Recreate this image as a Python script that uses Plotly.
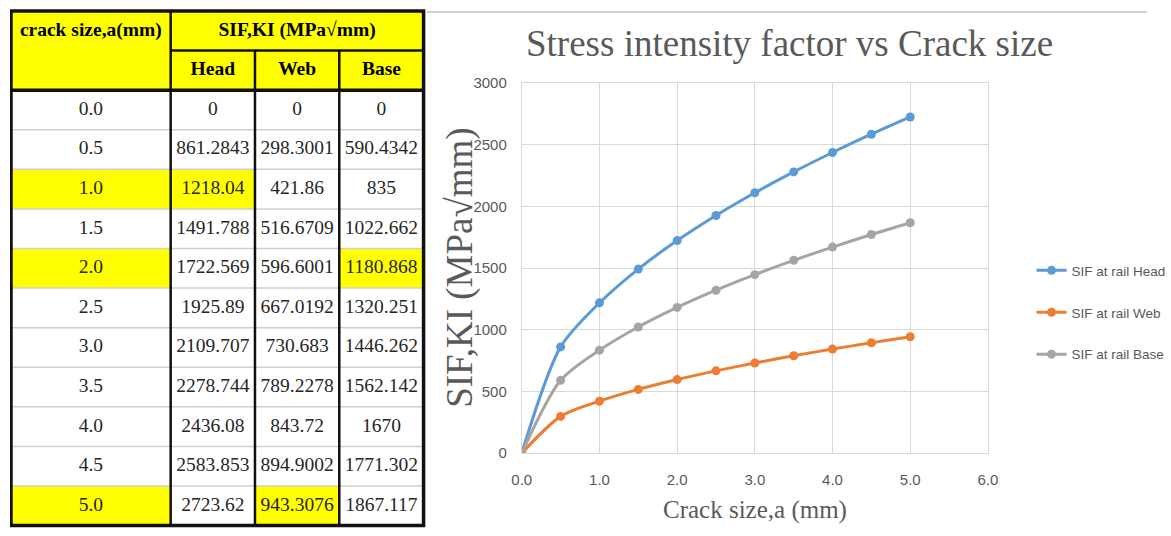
import plotly.graph_objects as go

# ---------------- data ----------------
crack_size = [0.0, 0.5, 1.0, 1.5, 2.0, 2.5, 3.0, 3.5, 4.0, 4.5, 5.0]
sif_head = [0, 861.2843, 1218.04, 1491.788, 1722.569, 1925.89, 2109.707, 2278.744, 2436.08, 2583.853, 2723.62]
sif_web = [0, 298.3001, 421.86, 516.6709, 596.6001, 667.0192, 730.683, 789.2278, 843.72, 894.9002, 943.3076]
sif_base = [0, 590.4342, 835, 1022.662, 1180.868, 1320.251, 1446.262, 1562.142, 1670, 1771.302, 1867.117]
series_names = ["SIF at rail Head", "SIF at rail Web", "SIF at rail Base"]
table_columns = ["Head", "Web", "Base"]
table_header_first = "crack size,a(mm)"
table_header_group = "SIF,KI (MPa√mm)"
highlight_cells = [(1.0, "Head"), (2.0, "Base"), (5.0, "Web")]
chart_title = "Stress intensity factor vs Crack size"
x_title = "Crack size,a (mm)"
y_title = "SIF,KI (MPa√mm)"

# ---------------- styles / layout constants ----------------
W, H = 1171, 536
# the captured picture shows the page with an 8px frame and a slight
# shrink; positions below are given in picture pixels and converted.
OFF, SX, SY = 8, 0.979, 0.970
SERIF = "Liberation Serif, Times New Roman, serif"
SANS = "Liberation Sans, Arial, sans-serif"
GRAY_TXT = "#595959"
GRID = "#D9D9D9"
colors = ["#5B9BD5", "#ED7D31", "#A5A5A5"]
YELLOW = "#FFFF00"

col_edges = [9, 170, 255, 340, 425]    # table column borders (picture px, table x-axis units)
n_rows = 13                             # 2 header rows + 11 data rows
tbl_top, tbl_bot = 10, 525.5            # picture pixel extent of table
row_px = (tbl_bot - tbl_top) / n_rows
pad_px = 2.4


def px(s):
    return ((s - OFF) / SX) / W


def py(s):
    return 1 - ((s - OFF) / SY) / H


def clamp01(v):
    return min(1.0, max(0.0, v))


def fmt(v):
    return ("%.4f" % v).rstrip("0").rstrip(".")


fig = go.Figure()

# ---------------- chart traces ----------------
series_vals = [sif_head, sif_web, sif_base]
legends = ["legend", "legend2", "legend3"]
for name, vals, c, lg in zip(series_names, series_vals, colors, legends):
    fig.add_trace(go.Scatter(
        x=crack_size, y=vals, mode="lines+markers", name=name, legend=lg,
        line=dict(color=c, width=3, shape="spline", smoothing=0.8),
        marker=dict(color=c, size=9, symbol="circle"),
        xaxis="x", yaxis="y", hoverinfo="x+y+name"))

# ---------------- table (drawn on hidden axes x2/y2) ----------------
centers = [(col_edges[i] + col_edges[i + 1]) / 2 for i in range(4)]
n_data = len(crack_size)
data_rows = [2 + i + 0.5 for i in range(n_data)]
col_texts = [
    ["%.1f" % a for a in crack_size],
    [fmt(v) for v in sif_head],
    [fmt(v) for v in sif_web],
    [fmt(v) for v in sif_base],
]
for j in range(4):
    fig.add_trace(go.Scatter(
        x=[centers[j]] * n_data, y=data_rows, mode="text", text=col_texts[j],
        textposition="middle center",
        textfont=dict(family=SERIF, size=19.5, color="#262626"),
        xaxis="x2", yaxis="y2", showlegend=False, hoverinfo="skip"))

# header texts
hdr_x = [centers[0], (col_edges[1] + col_edges[4]) / 2] + centers[1:]
hdr_y = [0.5, 0.5, 1.5, 1.5, 1.5]
hdr_t = [table_header_first, table_header_group] + table_columns
fig.add_trace(go.Scatter(
    x=hdr_x, y=hdr_y, mode="text", text=["<b>%s</b>" % t for t in hdr_t],
    textposition="middle center",
    textfont=dict(family=SERIF, size=19.5, color="#000000"),
    xaxis="x2", yaxis="y2", showlegend=False, hoverinfo="skip"))

shapes = []
# header fill
shapes.append(dict(type="rect", xref="x2", yref="y2", x0=col_edges[0], x1=col_edges[4],
                   y0=0, y1=2, fillcolor=YELLOW, line=dict(width=0), layer="below"))
# highlighted cells
for a, col in highlight_cells:
    r = 2 + crack_size.index(a)
    cj = 1 + table_columns.index(col)
    for j in (0, cj):
        shapes.append(dict(type="rect", xref="x2", yref="y2", x0=col_edges[j], x1=col_edges[j + 1],
                           y0=r, y1=r + 1, fillcolor=YELLOW, line=dict(width=0), layer="below"))
# thin gray row separators
for r in range(3, n_rows):
    shapes.append(dict(type="line", xref="x2", yref="y2", x0=col_edges[0], x1=col_edges[4],
                       y0=r, y1=r, line=dict(color="#CFCFCF", width=1.5)))
# thick black lines
blk = "#111111"
shapes.append(dict(type="line", xref="x2", yref="y2", x0=col_edges[1], x1=col_edges[4], y0=1, y1=1,
                   line=dict(color=blk, width=2.5)))
shapes.append(dict(type="line", xref="x2", yref="y2", x0=col_edges[0], x1=col_edges[4], y0=2, y1=2,
                   line=dict(color=blk, width=3.5)))
shapes.append(dict(type="line", xref="x2", yref="y2", x0=col_edges[1], x1=col_edges[1], y0=0, y1=n_rows,
                   line=dict(color=blk, width=2.5)))
for j in (2, 3):
    shapes.append(dict(type="line", xref="x2", yref="y2", x0=col_edges[j], x1=col_edges[j], y0=1, y1=n_rows,
                       line=dict(color=blk, width=2.5)))
shapes.append(dict(type="rect", xref="x2", yref="y2", x0=col_edges[0], x1=col_edges[4], y0=0, y1=n_rows,
                   line=dict(color=blk, width=3.5)))

# spreadsheet decoration: chart-object top edge
shapes.append(dict(type="line", xref="paper", yref="paper", x0=px(428), x1=1, y0=py(11), y1=py(11),
                   line=dict(color="#D0D0D0", width=2), layer="below"))

annotations = [
    dict(text=y_title, xref="paper", yref="paper", x=px(461), y=py(267), textangle=-90,
         showarrow=False, xanchor="center", yanchor="middle",
         font=dict(family=SERIF, size=37, color=GRAY_TXT)),
    dict(text=x_title, xref="paper", yref="paper", x=px(759), y=py(510),
         showarrow=False, xanchor="center", yanchor="middle",
         font=dict(family=SERIF, size=25, color=GRAY_TXT)),
]

leg_common = dict(x=px(1038), xanchor="left", yanchor="middle", bgcolor="rgba(0,0,0,0)",
                  borderwidth=0, font=dict(family=SANS, size=13.5, color=GRAY_TXT))

# table sub-axes extents (picture px), kept inside the drawable frame
tx_lo = max(col_edges[0] - pad_x if False else col_edges[0] - 4, OFF)
tx_hi = col_edges[4] + 4
ty_top = max(tbl_top - pad_px, OFF)
ty_bot = min(tbl_bot + pad_px, OFF + SY * H)


def row_of(s):
    return (s - tbl_top) / row_px


fig.update_layout(
    width=W, height=H, autosize=False, margin=dict(l=0, r=0, t=0, b=0),
    paper_bgcolor="white", plot_bgcolor="white",
    title=dict(text=chart_title, x=px(781), xanchor="center", y=py(50), yanchor="middle",
               font=dict(family=SERIF, size=37, color=GRAY_TXT)),
    xaxis=dict(domain=[px(524), px(994)], range=[0, 6], tick0=0, dtick=1, tickformat=".1f",
               showgrid=True, gridcolor=GRID, gridwidth=1, zeroline=False,
               showline=True, linecolor=GRID, linewidth=1, mirror=True, ticks="",
               ticklabelstandoff=13, tickfont=dict(family=SANS, size=15, color=GRAY_TXT),
               anchor="y", fixedrange=True),
    yaxis=dict(domain=[py(453), py(82)], range=[0, 3000], tick0=0, dtick=500,
               showgrid=True, gridcolor=GRID, gridwidth=1, zeroline=False,
               showline=True, linecolor=GRID, linewidth=1, mirror=True, ticks="",
               ticklabelstandoff=11, tickfont=dict(family=SANS, size=15, color=GRAY_TXT),
               anchor="x", fixedrange=True),
    xaxis2=dict(domain=[clamp01(px(tx_lo)), clamp01(px(tx_hi))],
                range=[tx_lo, tx_hi], visible=False, anchor="y2", fixedrange=True),
    yaxis2=dict(domain=[clamp01(py(ty_bot)), clamp01(py(ty_top))],
                range=[row_of(ty_bot), row_of(ty_top)], visible=False, anchor="x2", fixedrange=True),
    legend=dict(y=py(270), **leg_common),
    legend2=dict(y=py(312), **leg_common),
    legend3=dict(y=py(354), **leg_common),
    shapes=shapes, annotations=annotations, showlegend=True,
)

fig.write_html("out.html")
